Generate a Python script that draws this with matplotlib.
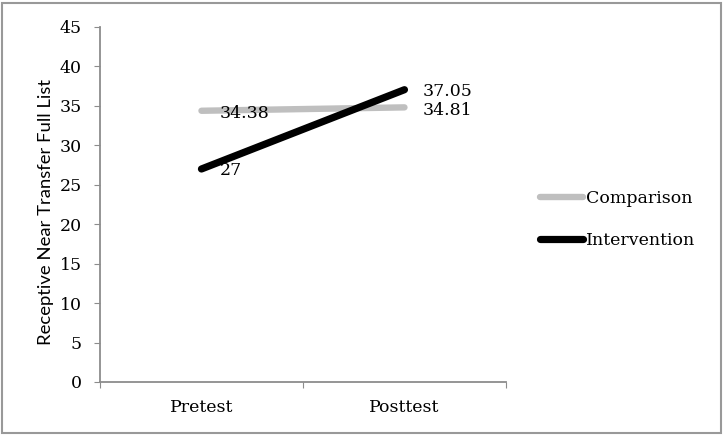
import matplotlib.pyplot as plt
from matplotlib.patches import Rectangle

# datos
categories = ['Pretest', 'Posttest']
comparison = [34.38, 34.81]
intervention = [27, 37.05]
yticks = list(range(0, 50, 5))

plt.rcParams['font.family'] = ['DejaVu Serif']
gris = '#8c8c8c'
fs = 12.5

fig = plt.figure(figsize=(7.26, 4.36), dpi=100)
ax = fig.add_axes([0.1377, 0.1239, 0.5592, 0.8142])

x = [0.5, 1.5]
ax.plot(x, comparison, color='#bfbfbf', lw=4.6, solid_capstyle='round', label='Comparison')
ax.plot(x, intervention, color='black', lw=5.2, solid_capstyle='round', label='Intervention')

# etiquetas de valores
for xi, v in zip(x, comparison):
    ax.annotate(f'{v:g}', (xi, v), xytext=(13, -2), textcoords='offset points',
                va='center', ha='left', fontsize=fs)
for xi, v in zip(x, intervention):
    ax.annotate(f'{v:g}', (xi, v), xytext=(13, -1), textcoords='offset points',
                va='center', ha='left', fontsize=fs)

ax.set_xlim(0, 2)
ax.set_ylim(0, 45)
ax.set_yticks(yticks)
ax.set_xticks([0, 1, 2])
ax.set_xticklabels([])
ax.set_xticks(x, minor=True)
ax.set_xticklabels(categories, minor=True, fontsize=fs)
ax.tick_params(axis='x', which='minor', length=0, pad=12)
ax.tick_params(axis='both', which='major', length=4, color=gris, labelsize=fs)
ax.tick_params(axis='y', which='major', pad=9)
ax.set_ylabel('Receptive Near Transfer Full List', fontsize=13.3, family='Lato')
ax.yaxis.set_label_coords(-0.113, 0.479)
for s in ['top', 'right']:
    ax.spines[s].set_visible(False)
for s in ['left', 'bottom']:
    ax.spines[s].set_color(gris)
    ax.spines[s].set_linewidth(1.3)

leg = ax.legend(loc='center left', bbox_to_anchor=(1.084, 0.458), frameon=False,
                fontsize=fs, handlelength=2.5, handletextpad=0.15, labelspacing=1.45,
                borderpad=0, borderaxespad=0)

# marco exterior
fig.patches.append(Rectangle((0.003, 0.006), 0.99, 0.988, transform=fig.transFigure,
                             fill=False, edgecolor='#999999', lw=1.5))

fig.savefig('out.png', dpi=100)
